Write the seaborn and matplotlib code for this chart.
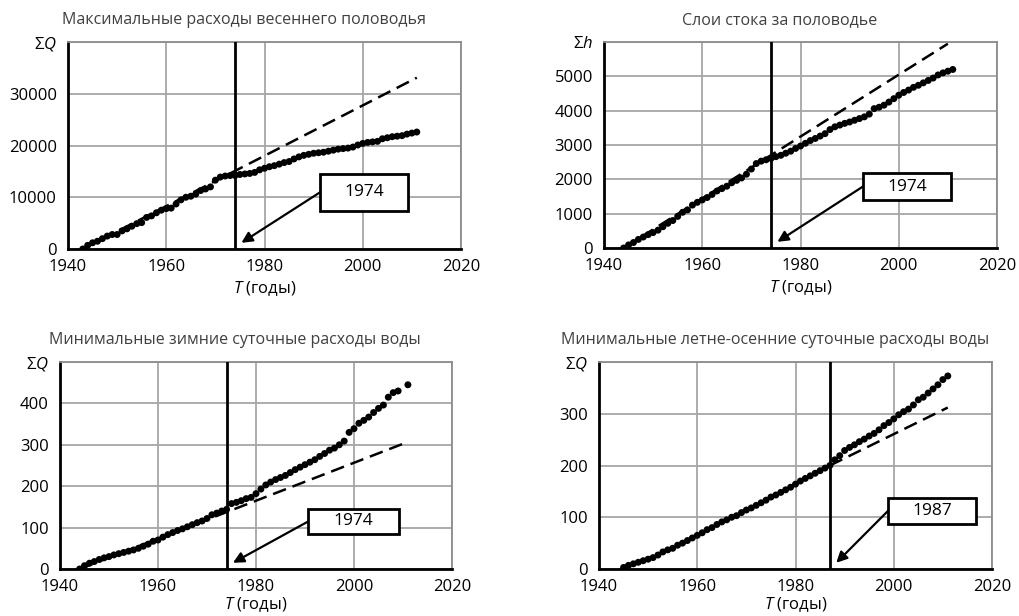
import numpy as np
import pandas as pd
import matplotlib
matplotlib.use("Agg")
import matplotlib.pyplot as plt
from matplotlib.patches import Rectangle
import seaborn as sns

# ---------------- data ----------------
titles = ["Максимальные расходы весеннего половодья",
          "Слои стока за половодье",
          "Минимальные зимние суточные расходы воды",
          "Минимальные летне-осенние суточные расходы воды"]
y_top_labels = ["Σ$\\it{Q}$", "Σ$\\it{h}$", "Σ$\\it{Q}$", "Σ$\\it{Q}$"]
y_limits = [40000, 6000, 500, 400]
y_steps = [10000, 1000, 100, 100]
break_years = [1974, 1974, 1974, 1987]
x_ticks = [1940, 1960, 1980, 2000, 2020]

years1 = list(range(1943, 2012))
vals1 = [0, 700, 1200, 1500, 2000, 2500, 2800,
         2800, 3500, 3900, 4400, 4900, 5100, 6100, 6400, 7000, 7500,
         7800, 7900, 8700, 9500, 10000, 10200, 10600, 11300, 11600, 12000,
         13300, 13900, 14100, 14200, 14200, 14400, 14500, 14600, 14800, 15300,
         15600, 15900, 16100, 16400, 16700, 16900, 17400, 17800, 18100, 18300,
         18500, 18600, 18700, 18900, 19100, 19300, 19400, 19500, 19700, 20100,
         20400, 20600, 20700, 20800, 21300, 21500, 21700, 21800, 21900, 22200,
         22400, 22600]
trend1_x = [1943, 2011]
trend1_y = [0, 33100]

years2 = list(range(1944, 2012))
vals2 = [0, 90, 160, 250, 320, 390,
         450, 520, 620, 720, 800, 920, 1040, 1110, 1250, 1330,
         1400, 1470, 1560, 1660, 1730, 1800, 1900, 1970, 2040, 2150,
         2300, 2460, 2530, 2570, 2610, 2660, 2700, 2760, 2820, 2900,
         2970, 3050, 3130, 3190, 3260, 3330, 3450, 3530, 3580, 3630,
         3670, 3720, 3770, 3820, 3900, 4060, 4100, 4160, 4250, 4350,
         4450, 4530, 4600, 4680, 4740, 4810, 4880, 4950, 5040, 5100,
         5150, 5200]
trend2_x = [1944, 2010]
trend2_y = [0, 5950]

years3 = list(range(1944, 2010)) + [2011]
vals3 = [0, 8, 14, 18, 23, 27,
         30, 34, 37, 40, 43, 46, 50, 55, 60, 67,
         70, 77, 83, 88, 93, 97, 102, 107, 112, 116,
         122, 131, 135, 140, 144, 158, 161, 165, 170, 173,
         182, 193, 203, 210, 216, 221, 226, 233, 240, 246,
         252, 258, 264, 272, 279, 287, 292, 300, 309, 330,
         339, 352, 359, 367, 378, 388, 396, 415, 426, 430,
         445]
trend3_x = [1944, 2011]
trend3_y = [0, 307]

years4 = list(range(1945, 2012))
vals4 = [3, 7, 10, 13, 16,
         19, 22, 27, 33, 37, 40, 46, 50, 55, 60,
         65, 70, 76, 80, 86, 91, 95, 100, 103, 109,
         114, 118, 123, 128, 133, 139, 143, 148, 153, 158,
         164, 170, 175, 180, 185, 190, 195, 200, 211, 219,
         229, 235, 240, 246, 251, 257, 262, 269, 277, 283,
         290, 298, 304, 309, 317, 327, 332, 340, 348, 356,
         366, 373]
trend4_x = [1987, 2011]
trend4_y = [200, 312]

series = [(years1, vals1, trend1_x, trend1_y),
          (years2, vals2, trend2_x, trend2_y),
          (years3, vals3, trend3_x, trend3_y),
          (years4, vals4, trend4_x, trend4_y)]

# ---------------- style ----------------
sns.set_theme(style="white")
FONT = "Open Sans"
plt.rcParams["font.family"] = [FONT, "DejaVu Sans"]
plt.rcParams["mathtext.fontset"] = "custom"
plt.rcParams["mathtext.rm"] = FONT
plt.rcParams["mathtext.it"] = FONT + ":italic"

fig = plt.figure(figsize=(10.19, 6.16), dpi=100)
W, H = 1019, 616
# axes boxes in pixels: left, top, width, height
boxes = [(68, 42, 393, 207), (604, 42, 393, 206), (60, 362, 392, 207), (599, 362, 393, 207)]
# annotation boxes in axes fraction: x0, y0, w, h
ann_boxes = [(0.641, 0.184, 0.224, 0.179), (0.659, 0.233, 0.224, 0.131),
             (0.633, 0.169, 0.232, 0.121), (0.735, 0.217, 0.224, 0.126)]
label_pads = [3, 3, 0.5, 0.5]

tick_fs = 12
for i in range(4):
    l, t, w, h = boxes[i]
    ax = fig.add_axes([l / W, (H - t - h) / H, w / W, h / H])
    yrs, vals, tx, ty = series[i]
    df = pd.DataFrame({"year": yrs, "value": vals})
    tdf = pd.DataFrame({"year": tx, "value": ty})

    ax.set_xlim(1940, 2020)
    ax.set_ylim(0, y_limits[i])
    ax.grid(True, color="#a6a6a6", lw=1.3)
    ax.set_axisbelow(True)

    sns.lineplot(data=tdf, x="year", y="value", ax=ax, color="black",
                 lw=1.8, linestyle=(0, (5.5, 2.8)), zorder=2)
    sns.scatterplot(data=df, x="year", y="value", ax=ax, color="black",
                    s=25, edgecolor="none", linewidth=0, zorder=3)
    ax.axvline(break_years[i], color="black", lw=2.0, zorder=4)

    yt = list(np.arange(0, y_limits[i] + 1, y_steps[i]))
    ylabels = [str(int(v)) for v in yt[:-1]] + [y_top_labels[i]]
    ax.set_yticks(yt, ylabels)
    ax.set_xticks(x_ticks, [str(v) for v in x_ticks])
    ax.tick_params(axis="both", length=0, labelsize=tick_fs, colors="black")
    ax.tick_params(axis="y", pad=8)
    ax.tick_params(axis="x", pad=7)
    ax.set_ylabel("")
    ax.set_xlabel("$\\it{T}$ (годы)", fontsize=tick_fs, color="black",
                  labelpad=label_pads[i])

    for side in ["left", "bottom"]:
        ax.spines[side].set_color("black")
        ax.spines[side].set_linewidth(2.0)
    for side in ["top", "right"]:
        ax.spines[side].set_color("#8c8c8c")
        ax.spines[side].set_linewidth(1.3)

    ax.text(0.447, 1 + 22 / h, titles[i], transform=ax.transAxes,
            ha="center", va="center", fontsize=11.5, color="#404040")

    bx, by, bw, bh = ann_boxes[i]
    ax.add_patch(Rectangle((bx, by), bw, bh, transform=ax.transAxes,
                           facecolor="white", edgecolor="black", lw=2.0,
                           zorder=6, clip_on=False))
    ax.text(bx + bw / 2, by + bh / 2, str(break_years[i]), transform=ax.transAxes,
            ha="center", va="center", fontsize=12.5, color="black", zorder=7)
    ax.annotate("", xy=(break_years[i] + 1.3, 0.03), xycoords=("data", "axes fraction"),
                xytext=(bx, by + bh / 2), textcoords="axes fraction",
                arrowprops=dict(arrowstyle="-|>", color="black", lw=1.6,
                                mutation_scale=16, shrinkA=0, shrinkB=0),
                zorder=5)

fig.savefig("out.png", dpi=100)
